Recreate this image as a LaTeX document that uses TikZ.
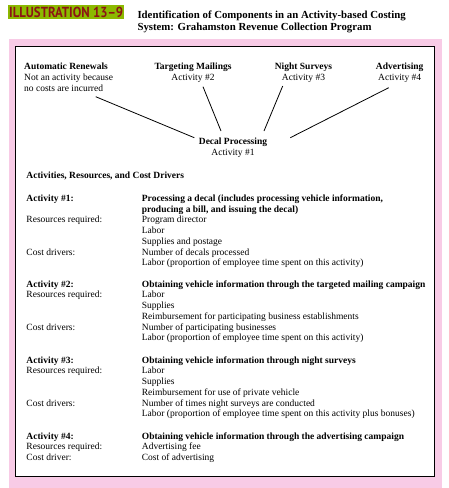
\documentclass[tikz,border=0pt]{standalone}
\usepackage{fontspec}
\usepackage{graphicx}
\setmainfont{Liberation Serif}
\newfontfamily\bannerfont{PT Sans}
\definecolor{pinkbg}{RGB}{248,203,230}
\definecolor{bannergreen}{RGB}{140,185,0}
\definecolor{bannerred}{RGB}{140,20,20}

\begin{document}
\begin{tikzpicture}[
  x=1pt,y=-1pt,
  txt/.style={inner sep=0pt, anchor=base, align=center, font=\fontsize{9.5}{10.75}\selectfont},
  block/.style={inner sep=0pt, anchor=base west, font=\fontsize{9.5}{10.75}\selectfont},
  link/.style={line width=0.8pt}
]
\useasboundingbox (0,0) rectangle (449,488);
\fill[pinkbg] (9,39) rectangle (442,488);
\draw[fill=white, line width=1pt] (15.3,46.7) rectangle (434.3,476);

\fill[bannergreen] (8,4.7) rectangle (124,18.7);
\node[inner sep=0pt, anchor=base west, text=bannerred] (IL) at (9,17.7)
  {\resizebox{114pt}{10.4pt}{\bannerfont\bfseries ILLUSTRATION 13–9}};
\node[block, align=left, font=\fontsize{10.8}{11.7}\selectfont\bfseries] (T) at (137.3,30.2)
  {Identification of Components in an Activity-based Costing\\System: Grahamston Revenue Collection Program};

\node[txt, anchor=base west, align=left] (AR) at (24,91.2) {\textbf{Automatic Renewals}\\Not an activity because\\no costs are incurred};
\node[txt] (TM) at (193,80.45) {\textbf{Targeting Mailings}\\Activity \#2};
\node[txt] (NS) at (303.5,80.45) {\textbf{Night Surveys}\\Activity \#3};
\node[txt] (AV) at (399.7,80.45) {\textbf{Advertising}\\Activity \#4};
\node[txt] (DP) at (233,155.45) {\textbf{Decal Processing}\\Activity \#1};

\draw[link] ([shift={(71.7,5.5)}]AR.base west) -- ([shift={(-38.7,-17.75)}]DP.base);
\draw[link] ([shift={(10,6.25)}]TM.base) -- ([shift={(-12,-24.45)}]DP.base);
\draw[link] ([shift={(-20.8,5.55)}]NS.base) -- ([shift={(31,-24.45)}]DP.base);
\draw[link] ([shift={(-11,7.25)}]AV.base) -- ([shift={(57.3,-17.75)}]DP.base);

\node[block] (H) at (26.3,178.7) {\textbf{Activities, Resources, and Cost Drivers}};

\node[block] (A1) at (26.3,201.3) {\begin{tabular}[t]{@{}p{115.4pt}@{}l@{}}
\textbf{Activity \#1:} & \textbf{Processing a decal (includes processing vehicle information,}\\
 & \textbf{producing a bill, and issuing the decal)}\\
Resources required: & Program director\\
 & Labor\\
 & Supplies and postage\\
Cost drivers: & Number of decals processed\\
 & Labor (proportion of employee time spent on this activity)
\end{tabular}};

\node[block] (A2) at (26.3,287) {\begin{tabular}[t]{@{}p{115.4pt}@{}l@{}}
\textbf{Activity \#2:} & \textbf{Obtaining vehicle information through the targeted mailing campaign}\\
Resources required: & Labor\\
 & Supplies\\
 & Reimbursement for participating business establishments\\
Cost drivers: & Number of participating businesses\\
 & Labor (proportion of employee time spent on this activity)
\end{tabular}};

\node[block] (A3) at (26.3,363) {\begin{tabular}[t]{@{}p{115.4pt}@{}l@{}}
\textbf{Activity \#3:} & \textbf{Obtaining vehicle information through night surveys}\\
Resources required: & Labor\\
 & Supplies\\
 & Reimbursement for use of private vehicle\\
Cost drivers: & Number of times night surveys are conducted\\
 & Labor (proportion of employee time spent on this activity plus bonuses)
\end{tabular}};

\node[block] (A4) at (26.3,439) {\begin{tabular}[t]{@{}p{115.4pt}@{}l@{}}
\textbf{Activity \#4:} & \textbf{Obtaining vehicle information through the advertising campaign}\\
Resources required: & Advertising fee\\
Cost driver: & Cost of advertising
\end{tabular}};
\end{tikzpicture}
\end{document}
